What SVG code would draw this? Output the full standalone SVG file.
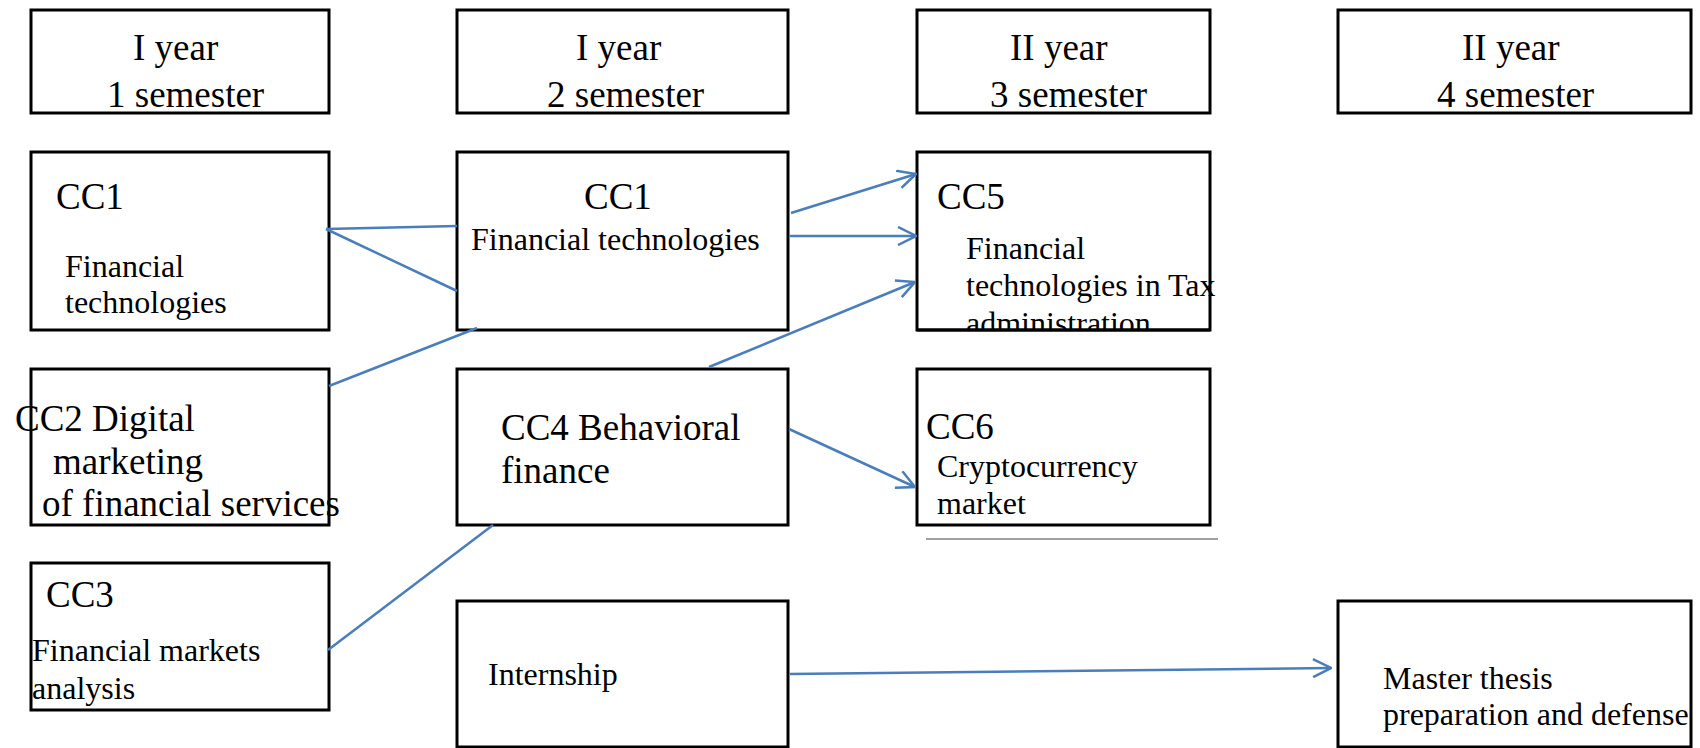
<svg xmlns="http://www.w3.org/2000/svg" width="1700" height="748" viewBox="0 0 1700 748">
<style>
.box{fill:#fff;stroke:#000;stroke-width:3}
.t37{font-family:"Liberation Serif","Times New Roman",serif;font-size:37px;fill:#000}
.t32{font-family:"Liberation Serif","Times New Roman",serif;font-size:32px;fill:#000}
.conn{stroke:#4a7ebb;stroke-width:2.5;fill:none}
</style>
<defs>
<marker id="arr" viewBox="0 0 20 20" refX="19" refY="10" markerWidth="20" markerHeight="20" markerUnits="userSpaceOnUse" orient="auto">
<path d="M1,1 L19,10 L1,19" fill="none" stroke="#4a7ebb" stroke-width="2.5"/>
</marker>
<clipPath id="cc5clip"><rect x="900" y="140" width="400" height="189"/></clipPath>
</defs>
<rect width="1700" height="748" fill="#fff"/>

<g id="h1"><rect class="box" x="31" y="10" width="298" height="103"/>
<text class="t37" x="133" y="60">I year</text><text class="t37" x="107" y="107">1 semester</text></g>
<g id="h2"><rect class="box" x="457" y="10" width="331" height="103"/>
<text class="t37" x="576" y="60">I year</text><text class="t37" x="547" y="107">2 semester</text></g>
<g id="h3"><rect class="box" x="917" y="10" width="293" height="103"/>
<text class="t37" x="1010" y="60">II year</text><text class="t37" x="990" y="107">3 semester</text></g>
<g id="h4"><rect class="box" x="1338" y="10" width="353" height="103"/>
<text class="t37" x="1462" y="60">II year</text><text class="t37" x="1437" y="107">4 semester</text></g>

<g id="cc1a"><rect class="box" x="31" y="152" width="298" height="178"/>
<text class="t37" x="56" y="209">CC1</text>
<text class="t32" x="65" y="277">Financial</text><text class="t32" x="65" y="313">technologies</text></g>
<g id="cc1b"><rect class="box" x="457" y="152" width="331" height="178"/>
<text class="t37" x="584" y="209">CC1</text>
<text class="t32" x="471" y="250">Financial technologies</text></g>
<g id="cc5"><rect class="box" x="917" y="152" width="293" height="178"/>
<text class="t37" x="937" y="209">CC5</text>
<text class="t32" x="966" y="259">Financial</text><text class="t32" x="966" y="296">technologies in Tax</text>
<text class="t32" x="966" y="334" clip-path="url(#cc5clip)">administration</text>
<line x1="917" y1="330" x2="1210" y2="330" stroke="#000" stroke-width="3"/></g>

<g id="cc2"><rect class="box" x="31" y="369" width="298" height="156"/>
<text class="t37" x="15" y="431">CC2 Digital</text><text class="t37" x="53" y="474">marketing</text>
<text class="t37" x="42" y="516">of financial services</text></g>
<g id="cc4"><rect class="box" x="457" y="369" width="331" height="156"/>
<text class="t37" x="501" y="440">CC4 Behavioral</text><text class="t37" x="501" y="483">finance</text></g>
<g id="cc6"><rect class="box" x="917" y="369" width="293" height="156"/>
<text class="t37" x="926" y="439">CC6</text>
<text class="t32" x="937" y="477">Cryptocurrency</text><text class="t32" x="937" y="514">market</text>
<line x1="926" y1="539" x2="1218" y2="539" stroke="#808080" stroke-width="1.5"/></g>

<g id="cc3"><rect class="box" x="31" y="563" width="298" height="147"/>
<text class="t37" x="46" y="607">CC3</text>
<text class="t32" x="32" y="661">Financial markets</text><text class="t32" x="32" y="699">analysis</text></g>
<g id="internship"><rect class="box" x="457" y="601" width="331" height="146"/>
<text class="t32" x="488" y="685">Internship</text></g>
<g id="master"><rect class="box" x="1338" y="601" width="353" height="146"/>
<text class="t32" x="1383" y="689">Master thesis</text><text class="t32" x="1383" y="725">preparation and defense</text></g>

<g id="connectors">
<line class="conn" x1="326" y1="229" x2="457" y2="226"/>
<line class="conn" x1="326" y1="229" x2="457" y2="291"/>
<line class="conn" x1="329" y1="386" x2="477" y2="328"/>
<line class="conn" x1="791" y1="213" x2="916" y2="174" marker-end="url(#arr)"/>
<line class="conn" x1="789" y1="236" x2="916" y2="236" marker-end="url(#arr)"/>
<line class="conn" x1="709" y1="367" x2="915" y2="282" marker-end="url(#arr)"/>
<line class="conn" x1="789" y1="429" x2="915" y2="487" marker-end="url(#arr)"/>
<line class="conn" x1="328" y1="650" x2="493" y2="525"/>
<line class="conn" x1="789" y1="674" x2="1331" y2="668" marker-end="url(#arr)"/>
</g>
</svg>
